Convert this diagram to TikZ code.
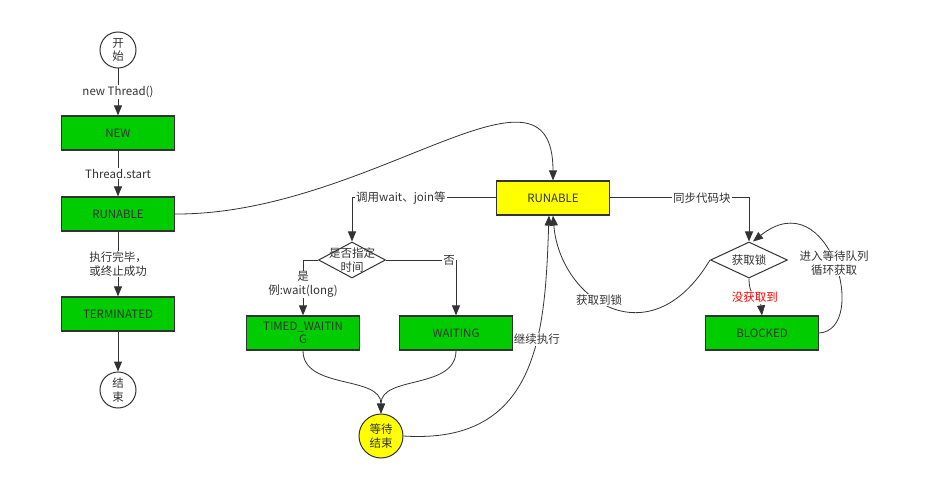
\documentclass[tikz,border=0pt]{standalone}
\usepackage{fontspec}
\setmainfont{Noto Sans CJK SC}
\usetikzlibrary{arrows.meta,shapes.geometric}
\definecolor{gr}{HTML}{00CC00}
\definecolor{ln}{HTML}{333333}
\definecolor{yl}{HTML}{FFFF00}
\begin{document}
\begin{tikzpicture}[x=1pt,y=-1pt,
  every node/.style={font=\fontsize{11.5}{13.5}\selectfont, text=ln},
  box/.style={draw=ln, line width=1.2pt, fill=gr, minimum width=113pt, minimum height=34pt, inner sep=1pt, align=center},
  ybox/.style={box, fill=yl},
  term/.style={circle, draw=ln, line width=1pt, fill=white, minimum size=36pt, inner sep=0pt, align=center},
  dec/.style={diamond, draw=ln, line width=1pt, fill=white, inner sep=0pt},
  txt/.style={align=center, inner sep=0pt},
  lbl/.style={fill=white, inner sep=1pt, align=center},
  arr/.style={draw=ln, line width=1pt, -{Triangle[length=10pt,width=8pt]}},
  carr/.style={draw=ln, line width=0.8pt, -{Triangle[length=10pt,width=8pt]}}
]
\useasboundingbox (0,0) rectangle (930,492);

% left column
\node[term] (S) at (118,50) {开\\始};
\node[box] (NEW) at (118,133) {NEW};
\node[box] (RL) at (118,214) {RUNABLE};
\node[box] (T) at (118,314) {TERMINATED};
\node[term] (E) at (118,390) {结\\束};

\draw[arr] (S) -- node[lbl] {new Thread()} (NEW);
\draw[arr] (NEW) -- node[lbl] {Thread.start} (RL);
\draw[arr] (RL) -- node[lbl] {执行完毕，\\或终止成功} (T);
\draw[arr] (T) -- (E);

% middle
\node[ybox] (Y) at (553,198) {RUNABLE};
\node[dec, minimum width=67pt, minimum height=36pt] (d1) at (352,260) {};
\node[txt] (d1t) at (d1) {是否指定\\时间};
\node[box] (TW) at (303,333) {TIMED\_WAITIN\\G};
\node[box] (W) at (456,333) {WAITING};
\node[term, fill=yl, minimum size=44pt] (C) at (381,436) {等待\\结束};

\draw[carr] (RL.east) .. controls (370,215) and (553,40) .. (Y.north);
\draw[arr] (Y.west) -| node[lbl, pos=0.33] {调用wait、join等} (d1.north);
\draw[arr] (d1.west) -| node[lbl, pos=0.72] {是\\例:wait(long)} (TW.north);
\draw[arr] (d1.east) -| node[lbl, pos=0.45] {否} (W.north);
\draw[carr] (TW.south) .. controls (303,390) and (381,375) .. (C.north);
\draw[carr] (W.south) .. controls (456,390) and (381,375) .. (C.north);
\draw[carr] (C.east) .. controls (540,445) and (545,330) .. node[lbl, pos=0.62] {继续执行} ([xshift=-4pt]Y.south);

% right
\node[dec, minimum width=77pt, minimum height=36pt] (d2) at (749,260) {};
\node[txt] (d2t) at (d2) {获取锁};
\node[box] (B) at (762,333) {BLOCKED};

\draw[arr] (Y.east) -| node[lbl, pos=0.33] {同步代码块} (d2.north);
\draw[carr] (d2.west) .. controls (650,360) and (560,300) .. node[lbl, pos=0.57] {获取到锁} (Y.south);
\draw[carr] (d2.south) .. controls (749,300) and (760,295) .. node[lbl, text=red, pos=0.5] {没获取到} (B.north);
\draw[carr] (B.east) .. controls (870,330) and (830,180) .. node[lbl, pos=0.5] {进入等待队列\\循环获取} ([xshift=4pt]d2.north);

\end{tikzpicture}
\end{document}
